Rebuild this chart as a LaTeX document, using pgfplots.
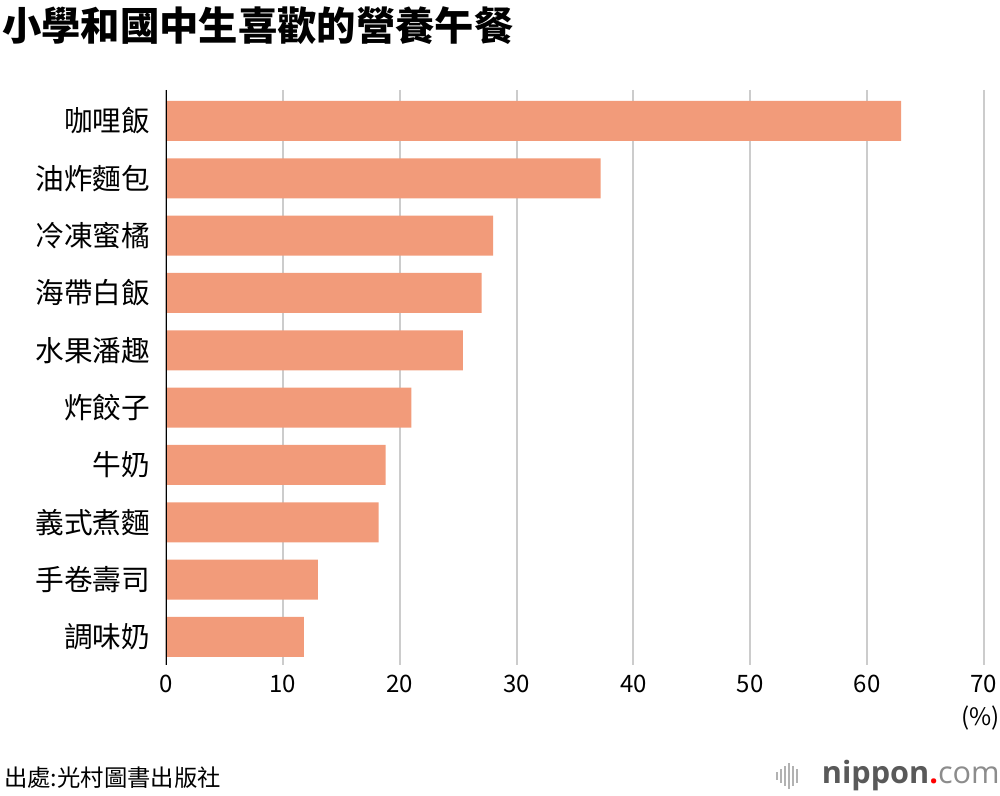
\documentclass[border=0pt]{standalone}
\usepackage{pgfplots}
\pgfplotsset{compat=1.18}
\usepackage{fontspec}
\setmainfont{Noto Sans CJK TC}
\newfontfamily\logofont{Open Sans}
\definecolor{barc}{HTML}{F29B7A}
\definecolor{gridc}{HTML}{CCCCCC}
\begin{document}
\begin{tikzpicture}[x=0.75pt,y=0.75pt]
\path[use as bounding box] (0,0) rectangle (1000,796);
\node[anchor=west, font=\bfseries\fontsize{29.5}{32}\selectfont, inner sep=0] at (2,770) {小學和國中生喜歡的營養午餐};
\begin{axis}[
  at={(124.5pt,98.25pt)}, anchor=south west, scale only axis,
  width=613.5pt, height=431.25pt,
  xbar, bar width=30pt,
  xmin=0, xmax=70, ymin=-0.54, ymax=9.49, y dir=reverse,
  ytick={0,...,9},
  yticklabels={咖哩飯,油炸麵包,冷凍蜜橘,海帶白飯,水果潘趣,炸餃子,牛奶,義式煮麵,手卷壽司,調味奶},
  xtick={0,10,...,70},
  xmajorgrids, major grid style={draw=gridc, line width=1.5pt},
  axis line style={draw=none}, tick style={draw=none},
  /pgf/number format/assume math mode=true,
  xticklabel style={font=\fontsize{18}{20}\selectfont, yshift=-4pt},
  yticklabel style={font=\fontsize{21.5}{24}\selectfont, xshift=-4pt},
]
\addplot[fill=barc, draw=none] coordinates {
(62.9,0) (37.2,1) (28.0,2) (27.0,3) (25.4,4) (21.0,5) (18.8,6) (18.2,7) (13.0,8) (11.8,9)};
\draw[black, line width=2pt] (axis cs:0,-0.54) -- (axis cs:0,9.49);
\end{axis}
\node[anchor=east, font=\fontsize{18}{20}\selectfont, inner sep=0] at (1000,78) {(\%)};
\node[anchor=west, font=\fontsize{17.5}{20}\selectfont, inner sep=0] at (4,18) {出處:光村圖書出版社};
\foreach \xx/\hh in {776/8,780/14,784/20,788/26,792/20,796/14} {
  \fill[gray!60] (\xx,20-\hh/2) rectangle (\xx+1.8,20+\hh/2);
}
\node[anchor=east, inner sep=0, font=\logofont\fontsize{23}{25}\selectfont] at (1000,20)
 {\textcolor{black!65}{\bfseries nippon}\textcolor{red}{\bfseries .}\textcolor{black!45}{com}};
\end{tikzpicture}
\end{document}
